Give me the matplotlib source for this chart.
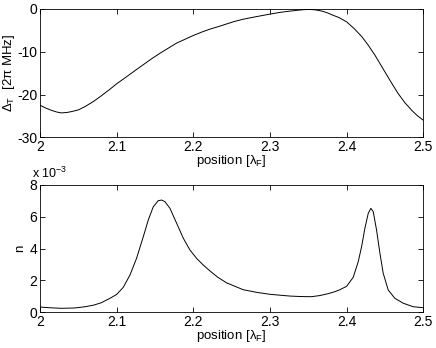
import matplotlib
matplotlib.use('Agg')
import matplotlib.pyplot as plt

plt.rcParams['font.family'] = ['Liberation Sans', 'DejaVu Sans']
plt.rcParams['mathtext.fontset'] = 'custom'
plt.rcParams['mathtext.rm'] = 'Liberation Sans'
plt.rcParams['mathtext.it'] = 'Liberation Sans'
plt.rcParams['axes.unicode_minus'] = False

# === Data ===
pos_top = [2.000, 2.008, 2.015, 2.022, 2.028, 2.035, 2.041, 2.050, 2.059, 2.070,
           2.080, 2.091, 2.100, 2.111, 2.124, 2.135, 2.146, 2.157, 2.168, 2.178,
           2.189, 2.200, 2.211, 2.222, 2.233, 2.2435, 2.254, 2.265, 2.282, 2.300,
           2.313, 2.326, 2.336, 2.345, 2.352, 2.359, 2.368, 2.375, 2.380, 2.390,
           2.400, 2.410, 2.420, 2.428, 2.437, 2.443, 2.450, 2.458, 2.467, 2.476,
           2.485, 2.492, 2.500]
detuning = [-22.5, -23.2, -23.7, -24.1, -24.3, -24.2, -24.0, -23.6, -22.8, -21.6,
            -20.3, -18.8, -17.5, -16.1, -14.4, -13.0, -11.6, -10.3, -9.1, -8.0,
            -7.1, -6.2, -5.4, -4.7, -4.1, -3.5, -2.9, -2.4, -1.8, -1.2,
            -0.8, -0.5, -0.3, -0.15, -0.12, -0.2, -0.5, -0.9, -1.3, -2.0,
            -3.0, -4.6, -6.5, -8.4, -10.8, -12.6, -14.7, -17.1, -19.7, -21.9,
            -23.7, -24.9, -26.0]

pos_bot = [2.000, 2.015, 2.028, 2.045, 2.059, 2.070, 2.080, 2.0913, 2.100, 2.1087,
           2.1174, 2.126, 2.1348, 2.1413, 2.1478, 2.1543, 2.1587, 2.163, 2.1696, 2.1783,
           2.187, 2.1957, 2.2043, 2.213, 2.2217, 2.232, 2.2435, 2.265, 2.283, 2.300,
           2.326, 2.340, 2.354, 2.365, 2.376, 2.385, 2.3913, 2.400, 2.4087, 2.4152,
           2.4196, 2.4239, 2.4283, 2.4317, 2.4348, 2.4391, 2.4435, 2.4478, 2.4543, 2.463,
           2.4739, 2.4869, 2.500]
density = [0.33, 0.28, 0.25, 0.27, 0.35, 0.45, 0.60, 0.88, 1.12, 1.57,
           2.34, 3.39, 4.75, 5.8, 6.63, 7.01, 7.05, 6.95, 6.53, 5.59,
           4.65, 3.91, 3.39, 2.97, 2.6, 2.2, 1.85, 1.42, 1.25, 1.13,
           1.02, 0.99, 0.98, 1.05, 1.17, 1.3, 1.42, 1.63, 2.2, 3.18,
           4.12, 5.28, 6.22, 6.53, 6.32, 5.17, 3.71, 2.45, 1.40, 0.88,
           0.57, 0.35, 0.29]

xticks = [2, 2.1, 2.2, 2.3, 2.4, 2.5]
xticklabels = ['2', '2.1', '2.2', '2.3', '2.4', '2.5']


def style_axes(ax):
    """ MATLAB-like box with inward ticks on all sides """
    ax.tick_params(direction='in', top=True, right=True, length=3.5, width=0.6,
                   labelsize=10, pad=2)
    for sp in ax.spines.values():
        sp.set_linewidth(0.6)
    ax.set_xlim(2, 2.5)
    ax.set_xticks(xticks)
    ax.set_xticklabels(xticklabels)
    ax.set_xlabel(r'position [$\lambda_F$]', fontsize=9.5, labelpad=-1)


fig = plt.figure(figsize=(4.36, 3.48), dpi=100)

ax1 = fig.add_axes([0.0917, 0.6055, 0.879, 0.3687])
ax1.plot(pos_top, detuning, color='black', lw=0.7)
style_axes(ax1)
ax1.set_ylim(-30, 0)
ax1.set_yticks([-30, -20, -10, 0])
ax1.set_ylabel(r'$\Delta_T$  [2$\pi$ MHz]', fontsize=9.5, labelpad=0)

ax2 = fig.add_axes([0.0917, 0.1026, 0.879, 0.366])
ax2.plot(pos_bot, density, color='black', lw=0.7)
style_axes(ax2)
ax2.set_ylim(0, 8)
ax2.set_yticks([0, 2, 4, 6, 8])
ax2.set_ylabel('n', fontsize=9.5, labelpad=2)
ax2.text(-0.02, 1.03, r'x 10$^{-3}$', transform=ax2.transAxes, fontsize=9,
         ha='left', va='bottom')

fig.savefig('out.png', dpi=100)
